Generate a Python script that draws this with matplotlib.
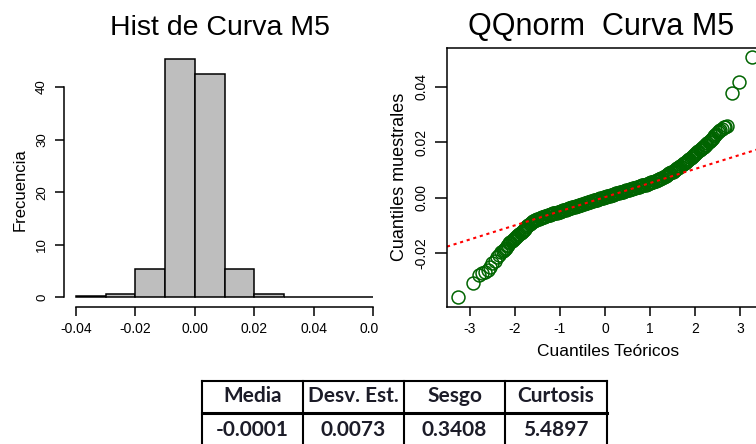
import matplotlib
matplotlib.use("Agg")
import matplotlib.pyplot as plt
from matplotlib.lines import Line2D
from matplotlib.patches import Rectangle

# ---------------- data ----------------
# histogram (density per 0.01-wide bin)
bin_edges = [-0.04, -0.03, -0.02, -0.01, 0.00, 0.01, 0.02, 0.03, 0.04, 0.05, 0.06]
bin_heights = [0.3, 0.7, 5.4, 45.4, 42.4, 5.4, 0.7, 0.1, 0.1, 0.1]
hist_xticks = [-0.04, -0.02, 0.00, 0.02, 0.04, 0.06]
hist_xticklabels = ["-0.04", "-0.02", "0.00", "0.02", "0.04", "0.06"]
hist_yticks = [0, 10, 20, 30, 40]

# normal QQ plot: theoretical quantiles and sample quantiles
qq_theoretical = [
    -3.26, -2.93, -2.81, -2.73, -2.66, -2.60, -2.55, -2.50, -2.45, -2.40, -2.35,
    -2.300, -2.275, -2.250, -2.225, -2.200, -2.175, -2.150, -2.125, -2.100, -2.075,
    -2.050, -2.025, -2.000, -1.975, -1.950, -1.925, -1.900, -1.875, -1.850, -1.825,
    -1.800, -1.775, -1.750, -1.725, -1.700, -1.675, -1.650, -1.625, -1.600, -1.575,
    -1.550, -1.525, -1.500, -1.475, -1.450, -1.425, -1.400, -1.375, -1.350, -1.325,
    -1.300, -1.275, -1.250, -1.225, -1.200, -1.175, -1.150, -1.125, -1.100, -1.075,
    -1.050, -1.025, -1.000, -0.975, -0.950, -0.925, -0.900, -0.875, -0.850, -0.825,
    -0.800, -0.775, -0.750, -0.725, -0.700, -0.675, -0.650, -0.625, -0.600, -0.575,
    -0.550, -0.525, -0.500, -0.475, -0.450, -0.425, -0.400, -0.375, -0.350, -0.325,
    -0.300, -0.275, -0.250, -0.225, -0.200, -0.175, -0.150, -0.125, -0.100, -0.075,
    -0.050, -0.025, 0.000, 0.025, 0.050, 0.075, 0.100, 0.125, 0.150, 0.175,
    0.200, 0.225, 0.250, 0.275, 0.300, 0.325, 0.350, 0.375, 0.400, 0.425,
    0.450, 0.475, 0.500, 0.525, 0.550, 0.575, 0.600, 0.625, 0.650, 0.675,
    0.700, 0.725, 0.750, 0.775, 0.800, 0.825, 0.850, 0.875, 0.900, 0.925,
    0.950, 0.975, 1.000, 1.025, 1.050, 1.075, 1.100, 1.125, 1.150, 1.175,
    1.200, 1.225, 1.250, 1.275, 1.300, 1.325, 1.350, 1.375, 1.400, 1.425,
    1.450, 1.475, 1.500, 1.525, 1.550, 1.575, 1.600, 1.625, 1.650, 1.675,
    1.700, 1.725, 1.750, 1.775, 1.800, 1.825, 1.850, 1.875, 1.900, 1.925,
    1.950, 1.975, 2.000, 2.025, 2.050, 2.075, 2.100, 2.125, 2.150, 2.175,
    2.200, 2.225, 2.250, 2.275, 2.300, 2.325, 2.350, 2.375, 2.400, 2.425,
    2.450, 2.475, 2.500, 2.525, 2.550,
    2.60, 2.64, 2.67, 2.70, 2.82, 2.97, 3.26,
]
qq_sample = [
    -0.0358, -0.0307, -0.0277, -0.0272, -0.0266, -0.0258, -0.0248, -0.0236, -0.0227, -0.0212, -0.0204,
    -0.0196, -0.0193, -0.0189, -0.0184, -0.0179, -0.0174, -0.0168, -0.0164, -0.0159, -0.0155,
    -0.0151, -0.0148, -0.0144, -0.0141, -0.0137, -0.0134, -0.0130, -0.0127, -0.0123, -0.0119,
    -0.0115, -0.0111, -0.0106, -0.0102, -0.0098, -0.0095, -0.0091, -0.0088, -0.0085, -0.0083,
    -0.0080, -0.0078, -0.0076, -0.0075, -0.0073, -0.0072, -0.0070, -0.0069, -0.0067, -0.0066,
    -0.0064, -0.0063, -0.0062, -0.0061, -0.0059, -0.0058, -0.0056, -0.0055, -0.0054, -0.0053,
    -0.0051, -0.0050, -0.0049, -0.0048, -0.0046, -0.0045, -0.0044, -0.0043, -0.0041, -0.0040,
    -0.0038, -0.0037, -0.0035, -0.0034, -0.0033, -0.0032, -0.0030, -0.0029, -0.0028, -0.0027,
    -0.0025, -0.0024, -0.0022, -0.0021, -0.0020, -0.0019, -0.0017, -0.0016, -0.0014, -0.0013,
    -0.0012, -0.0011, -0.0009, -0.0008, -0.0007, -0.0006, -0.0004, -0.0003, -0.0002, -0.0001,
    0.0001, 0.0002, 0.0003, 0.0005, 0.0006, 0.0007, 0.0008, 0.0010, 0.0011, 0.0012,
    0.0013, 0.0015, 0.0016, 0.0017, 0.0018, 0.0020, 0.0021, 0.0022, 0.0023, 0.0025,
    0.0026, 0.0027, 0.0028, 0.0030, 0.0031, 0.0032, 0.0033, 0.0035, 0.0036, 0.0037,
    0.0038, 0.0040, 0.0041, 0.0042, 0.0043, 0.0045, 0.0046, 0.0047, 0.0048, 0.0050,
    0.0051, 0.0053, 0.0054, 0.0056, 0.0057, 0.0059, 0.0060, 0.0062, 0.0063, 0.0065,
    0.0067, 0.0069, 0.0071, 0.0073, 0.0075, 0.0078, 0.0080, 0.0083, 0.0085, 0.0088,
    0.0090, 0.0093, 0.0095, 0.0098, 0.0100, 0.0103, 0.0106, 0.0109, 0.0112, 0.0115,
    0.0118, 0.0121, 0.0124, 0.0127, 0.0130, 0.0134, 0.0137, 0.0141, 0.0144, 0.0148,
    0.0151, 0.0155, 0.0158, 0.0162, 0.0165, 0.0169, 0.0172, 0.0175, 0.0178, 0.0182,
    0.0185, 0.0189, 0.0192, 0.0196, 0.0200, 0.0204, 0.0208, 0.0213, 0.0217, 0.0222,
    0.0227, 0.0232, 0.0236, 0.0240, 0.0244,
    0.0250, 0.0254, 0.0257, 0.0260, 0.0377, 0.0419, 0.0509,
]
# sample quartiles used for the reference line (through the normal quartiles)
qq_quartile_probs = [-0.6745, 0.6745]
qq_sample_quartiles = [-0.00315, 0.0037]
qq_xticks = [-3, -2, -1, 0, 1, 2, 3]
qq_yticks = [-0.02, 0.00, 0.02, 0.04]
qq_yticklabels = ["-0.02", "0.00", "0.02", "0.04"]

# summary table
table_headers = ["Media", "Desv. Est.", "Sesgo", "Curtosis"]
table_values = ["-0.0001", "0.0073", "0.3408", "5.4897"]

# ---------------- figure ----------------
W, H = 756, 444
fig = plt.figure(figsize=(W / 100, H / 100), dpi=100)
fig.patch.set_facecolor("white")
rfont = "Liberation Sans"


def fx(px):
    return px / W


def fy(py):
    return 1 - py / H


# ---- histogram panel ----
axh = fig.add_axes([fx(64), fy(307), (385 - 64) / W, (307 - 48) / H])
axh.set_xlim(-0.044, 0.064)
axh.set_ylim(-1.82, 47.4)
widths = [bin_edges[i + 1] - bin_edges[i] for i in range(len(bin_heights))]
axh.bar(bin_edges[:-1], bin_heights, width=widths, align="edge",
        color="#bebebe", edgecolor="black", linewidth=1.1)
for side in ("top", "right"):
    axh.spines[side].set_visible(False)
axh.spines["bottom"].set_bounds(-0.04, 0.06)
axh.spines["left"].set_bounds(0, 40)
for side in ("bottom", "left"):
    axh.spines[side].set_linewidth(1.1)
axh.set_xticks(hist_xticks)
axh.set_xticklabels(hist_xticklabels, fontfamily=rfont, fontsize=10)
axh.set_yticks(hist_yticks)
axh.set_yticklabels([str(v) for v in hist_yticks], fontfamily=rfont, fontsize=9.5,
                    rotation=90, va="center")
axh.tick_params(axis="x", length=6.5, width=1.1, pad=4)
axh.tick_params(axis="y", length=6.5, width=1.1, pad=5)
fig.text(fx(220), fy(28), "Hist de Curva M5", fontfamily=rfont, fontsize=20.5,
         ha="center", va="center")
fig.text(fx(20), fy(190), "Frecuencia", fontfamily=rfont, fontsize=12,
         rotation=90, ha="center", va="center")

# ---- QQ panel ----
axq = fig.add_axes([fx(447), fy(307), 316 / W, 259 / H])
axq.set_xlim(-3.51, 3.51)
axq.set_ylim(-0.0393, 0.0540)
axq.plot(qq_theoretical, qq_sample, linestyle="none", marker="o",
         markersize=9.3, markerfacecolor="none", markeredgecolor="#006400",
         markeredgewidth=1.1)
axq.axline((qq_quartile_probs[0], qq_sample_quartiles[0]),
           (qq_quartile_probs[1], qq_sample_quartiles[1]),
           color="red", linewidth=1.5, linestyle=(0, (1.5, 1.8)))
for s in axq.spines.values():
    s.set_linewidth(1.1)
axq.set_xticks(qq_xticks)
axq.set_xticklabels([str(v) for v in qq_xticks], fontfamily=rfont, fontsize=10)
axq.set_yticks(qq_yticks)
axq.set_yticklabels(qq_yticklabels, fontfamily=rfont, fontsize=10,
                    rotation=90, va="center")
axq.tick_params(axis="x", length=6.5, width=1.1, pad=4)
axq.tick_params(axis="y", length=8.5, width=1.1, pad=5)
fig.text(fx(601), fy(27), "QQnorm  Curva M5", fontfamily=rfont, fontsize=22,
         ha="center", va="center")
fig.text(fx(608), fy(351), "Cuantiles Teóricos", fontfamily=rfont, fontsize=12.5,
         ha="center", va="center")
fig.text(fx(399), fy(177), "Cuantiles muestrales", fontfamily=rfont, fontsize=13,
         rotation=90, ha="center", va="center")

# panel edge: the histogram image ends before the QQ panel
fig.add_artist(Rectangle((fx(378), fy(342)), fx(395) - fx(378), fy(316) - fy(342),
                         transform=fig.transFigure, facecolor="white",
                         edgecolor="none", zorder=5))

# ---- summary table ----
axt = fig.add_axes([0, 0, 1, 1], zorder=6)
axt.set_xlim(0, W)
axt.set_ylim(H, 0)
axt.axis("off")
col_x = [202, 303, 404, 505, 607]
row_y = [381, 412.5, 446]
tcol = "#1c1c28"
# horizontal rules
axt.add_line(Line2D([col_x[0], col_x[-1]], [row_y[0], row_y[0]], color="black", lw=1.5))
axt.add_line(Line2D([col_x[0], col_x[-1]], [row_y[1], row_y[1]], color="black", lw=2.2))
axt.add_line(Line2D([col_x[0], col_x[-1]], [row_y[2], row_y[2]], color="black", lw=1.5))
for cx in col_x:
    axt.add_line(Line2D([cx, cx], [row_y[0], row_y[2]], color="black", lw=1.5))
for i, (hdr, val) in enumerate(zip(table_headers, table_values)):
    cx = (col_x[i] + col_x[i + 1]) / 2
    axt.text(cx, 396, hdr, fontfamily="Lato", fontweight="bold", fontsize=15,
             color=tcol, ha="center", va="center")
    axt.text(cx, 429.5, val, fontfamily="Lato", fontweight="bold", fontsize=15,
             color=tcol, ha="center", va="center")

fig.savefig("out.png", dpi=100, facecolor="white")
